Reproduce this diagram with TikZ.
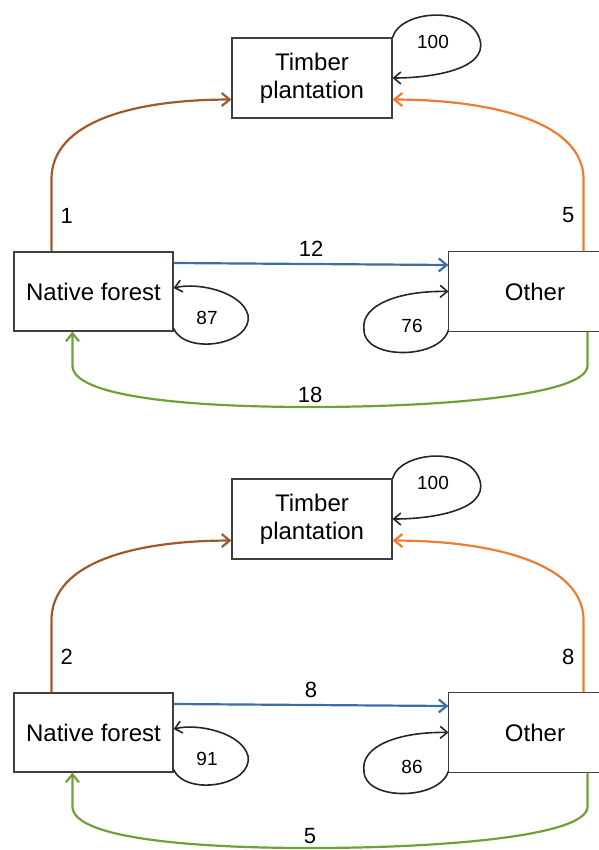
\documentclass[tikz,border=0pt]{standalone}
\usepackage{fontspec}
\setmainfont{Liberation Sans}
\usetikzlibrary{arrows.meta}

\definecolor{brownflow}{RGB}{158,90,40}
\definecolor{orangeflow}{RGB}{237,125,49}
\definecolor{blueflow}{RGB}{62,110,165}
\definecolor{greenflow}{RGB}{112,160,55}

\tikzset{
  landuse/.style={draw=black!75, line width=1.1pt, align=center, inner sep=0pt,
    minimum width=160pt, minimum height=80pt, font=\fontsize{24}{28}\selectfont},
  boxline/.style={draw=black!75, line width=1.1pt},
  flow/.style={line width=2.2pt, -{Straight Barb[length=8pt,width=13pt]}},
  stay/.style={line width=1.6pt, black!85, -{Straight Barb[length=7pt,width=12pt]}},
  rate/.style={text=black, inner sep=3pt, font=\fontsize{22}{24}\selectfont},
  staylabel/.style={inner sep=0pt, font=\fontsize{19}{21}\selectfont},
}

\begin{document}
\begin{tikzpicture}[x=1pt,y=-1pt]
    \useasboundingbox (0,0) rectangle (598,850);

    \foreach \dy/\p/\fromnf/\fromot/\across/\keepnf/\keepot/\back in
        {0/1/1/5/12/87/76/18, 441/2/2/8/8/91/86/5}{
    \begin{scope}[shift={(0,\dy)}]
    % land-use boxes (the "Other" box runs off the right edge)
    \node[landuse] (tp\p) at (312,78) {Timber\\plantation};
    \node[landuse, minimum width=159pt, minimum height=79pt] (nf\p) at (93.5,291.5) {Native forest};
    \node[landuse, draw=none, minimum width=172pt, minimum height=79pt] (ot\p) at (535,291.5) {Other};
    \draw[boxline] (ot\p.north east) -- (ot\p.north west) -- (ot\p.south west) -- (ot\p.south east);

    % transitions to timber plantation
    \draw[flow, brownflow] ([xshift=38pt]nf\p.north west)
        -- node[rate, right, xshift=5pt] {\fromnf} ++(0,-72)
        .. controls +(0,-60) and +(-92,0) .. ([yshift=19pt]tp\p.south west);
    \draw[flow, orangeflow] ([xshift=-38pt]ot\p.north east)
        -- node[rate, left, xshift=-5pt] {\fromot} ++(0,-72)
        .. controls +(0,-60) and +(92,0) .. ([yshift=19pt]tp\p.south east);

    % native forest <-> other
    \draw[flow, blueflow] ([yshift=28.5pt]nf\p.east)
        -- node[rate, above, yshift=3pt] {\across} ([yshift=26.5pt]ot\p.west);
    \draw[flow, greenflow] ([xshift=-34pt]ot\p.south east) -- ++(0,34)
        .. controls +(0,30) and +(130,0) .. (310,407) node[rate, above] {\back}
        .. controls +(-130,0) and +(0,30) .. ([xshift=59pt,yshift=-34pt]nf\p.south west)
        -- ([xshift=59pt]nf\p.south west);

    % unchanged land
    \draw[stay] (tp\p.north east) .. controls +(8,-28) and +(-10,-35) .. (480,40)
        .. controls +(8,30) and +(37,0) .. (tp\p.east);
    \node[staylabel] (tpkeep\p) at (433,42) {100};
    \draw[stay] ([yshift=3pt]nf\p.south east) .. controls +(12,27) and +(5,30) .. (248,315)
        .. controls +(-6,-23) and +(25,-6) .. ([yshift=3.5pt]nf\p.east);
    \node[staylabel] (nfkeep\p) at (207,318) {\keepnf};
    \draw[stay] ([yshift=1.5pt]ot\p.south west) .. controls +(-9,30) and +(0,30) .. (364,330)
        .. controls +(-4,-25) and +(-49,-1) .. (ot\p.west);
    \node[staylabel] (otkeep\p) at (412,326) {\keepot};
    \end{scope}
    }
\end{tikzpicture}
\end{document}
